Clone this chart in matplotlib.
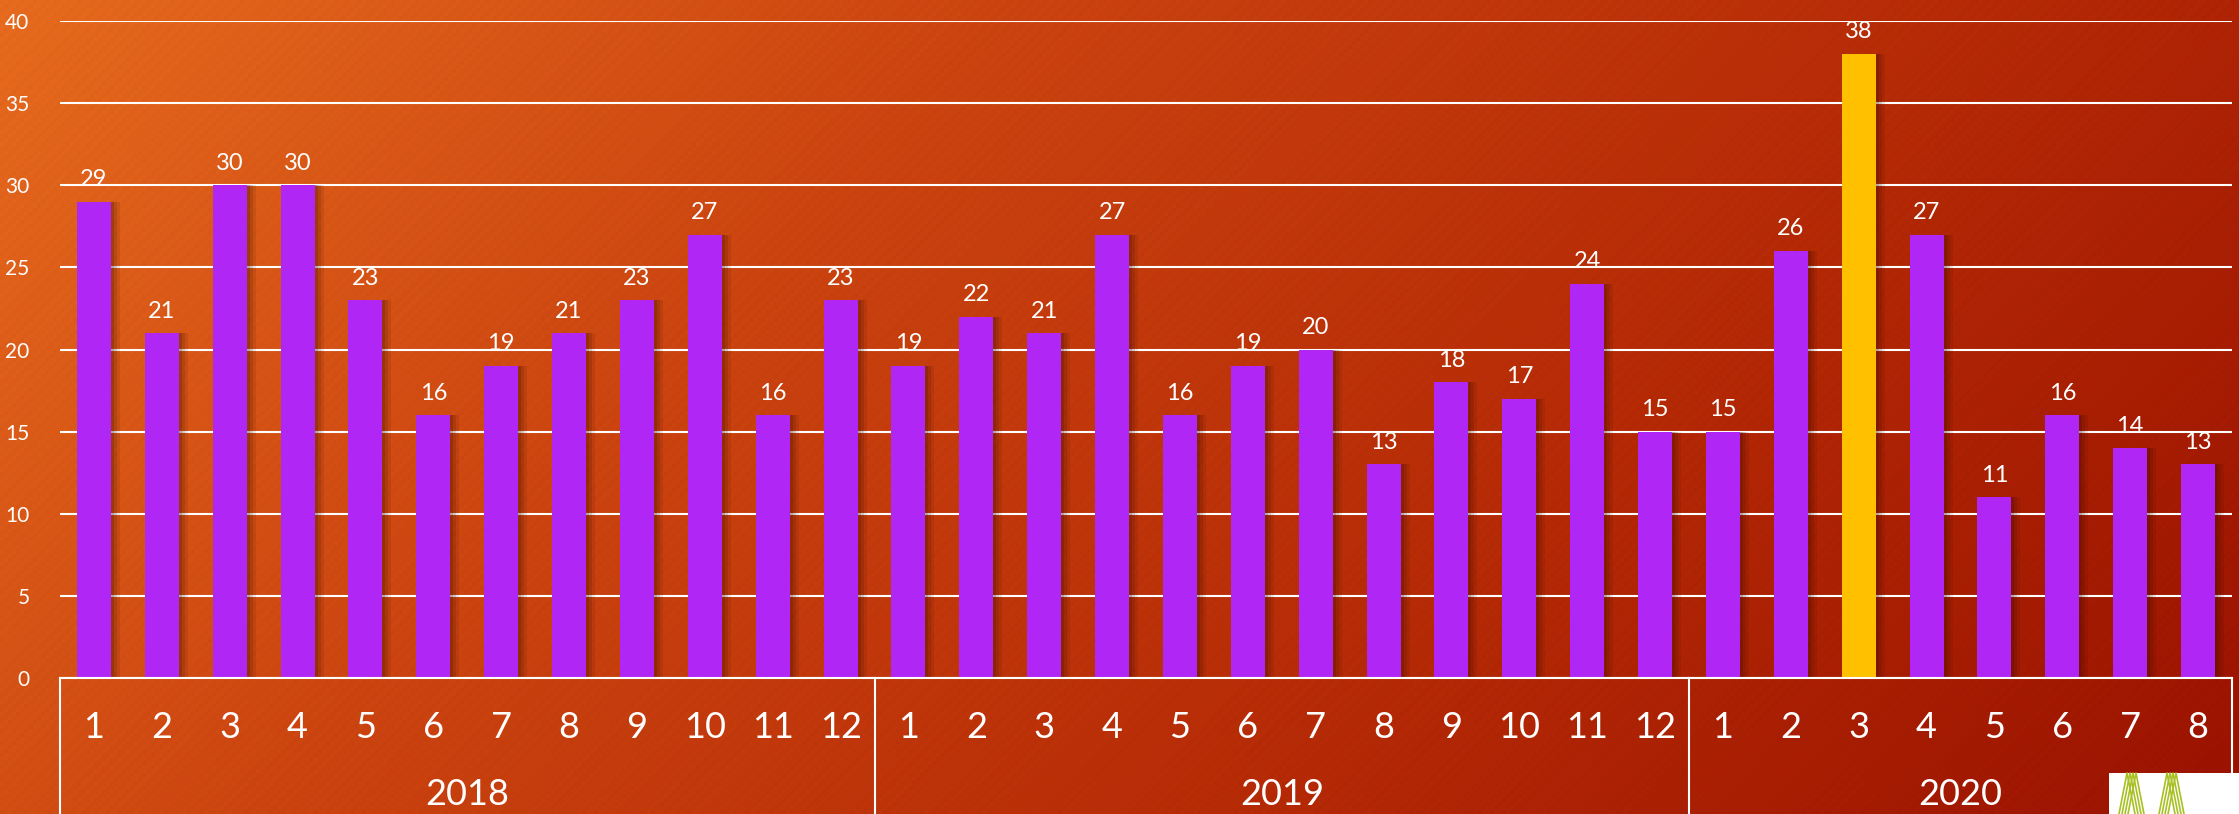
import numpy as np
import matplotlib.pyplot as plt
from matplotlib.colors import LinearSegmentedColormap
from matplotlib.patches import Rectangle
import matplotlib.transforms as mtransforms

plt.rcParams['font.family'] = ['Lato', 'DejaVu Sans']

years = ['2018', '2019', '2020']
months_per_year = [12, 12, 8]
values_2018 = [29, 21, 30, 30, 23, 16, 19, 21, 23, 27, 16, 23]
values_2019 = [19, 22, 21, 27, 16, 19, 20, 13, 18, 17, 24, 15]
values_2020 = [15, 26, 38, 27, 11, 16, 14, 13]
highlight = ('2020', 3)

values = values_2018 + values_2019 + values_2020
month_labels = [str(m) for n in months_per_year for m in range(1, n + 1)]
x = np.arange(len(values))

purple = '#B026F5'
gold = '#FFC000'
colors = []
for y, n in zip(years, months_per_year):
    for m in range(1, n + 1):
        colors.append(gold if (y, m) == highlight else purple)

fig = plt.figure(figsize=(22.39, 8.14), dpi=100)

# background gradient (orange top-left -> dark red bottom-right)
bg = fig.add_axes([0, 0, 1, 1], zorder=-10)
H, W = 200, 550
yy, xx = np.mgrid[0:H, 0:W]
t = (xx / W * 0.75 + yy / H * 0.25)
xp, yp = np.meshgrid(np.arange(W), np.arange(H))
stripes = 0.012 * np.sin((xp * 2.2 + yp * 2.2))
cmap = LinearSegmentedColormap.from_list('bg', ['#E66A1E', '#CB4410', '#B52A06', '#9A1200'])
img = cmap(t)[:, :, :3] * (1 + stripes[..., None])
bg.imshow(np.clip(img, 0, 1), aspect='auto', extent=[0, 1, 0, 1])
bg.axis('off')

ax = fig.add_axes([60 / 2239, 136 / 814, 2172 / 2239, 657 / 814])
ax.set_facecolor('none')

# bar shadows
px = 1 / 67.9
for k, a in [(3, 0.18), (6, 0.14), (9, 0.10)]:
    ax.bar(x + k * px, values, width=0.5, color='#3a0a00', alpha=a, zorder=2, linewidth=0)
ax.bar(x, values, width=0.5, color=colors, zorder=3, linewidth=0)

for xi, v in zip(x, values):
    ax.text(xi, v + 0.7, str(v), ha='center', va='bottom', color='white', fontsize=17, zorder=4)

ax.set_xlim(-0.5, len(values) - 0.5)
ax.set_ylim(0, 40)
ax.set_yticks(np.arange(0, 41, 5))
ax.tick_params(axis='y', length=0, labelsize=15, labelcolor='white', pad=22)
ax.set_xticks([])
ax.grid(axis='y', color='white', linewidth=1.5, zorder=1)
ax.set_axisbelow(True)
for s in ['top', 'right', 'left']:
    ax.spines[s].set_visible(False)
ax.spines['bottom'].set_color('white')
ax.spines['bottom'].set_linewidth(1.5)
ax.spines['bottom'].set_zorder(5)

# two-level category axis
tr = mtransforms.blended_transform_factory(ax.transData, ax.transAxes)
for xi, lab in zip(x, month_labels):
    ax.text(xi, -0.075, lab, transform=tr, ha='center', va='center', color='white', fontsize=26)
start = -0.5
bounds = [start]
for y, n in zip(years, months_per_year):
    end = start + n
    ax.text((start + end) / 2, -0.178, y, transform=tr, ha='center', va='center', color='white', fontsize=26)
    start = end
    bounds.append(end)
for b in bounds:
    ax.plot([b, b], [0, -0.25], transform=tr, color='white', linewidth=1.5, clip_on=False)

# logo corner
fig.patches.append(Rectangle((2109 / 2239, 0), 130 / 2239, 41 / 814, transform=fig.transFigure,
                             facecolor='white', edgecolor='none', zorder=20))
for cx in [2133, 2173]:
    for dx in [-6, -3, 0, 3]:
        fig.lines.append(plt.Line2D([(cx + dx - 8) / 2239, (cx + dx) / 2239, (cx + dx + 8) / 2239],
                                    [0, 41 / 814, 0], transform=fig.transFigure,
                                    color='#A9C023', linewidth=1.2, zorder=21))

fig.savefig('out.png', dpi=100)
